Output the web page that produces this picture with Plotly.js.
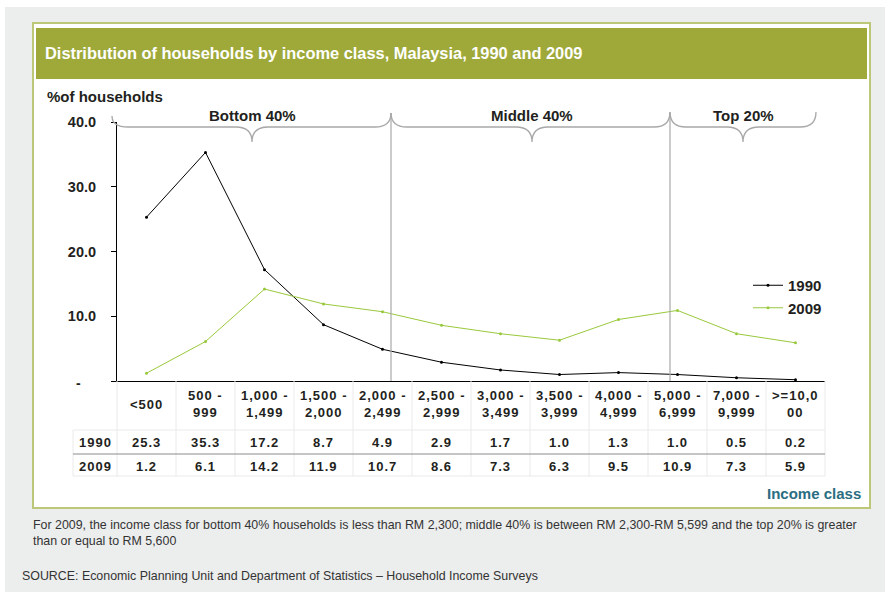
<!DOCTYPE html>
<html>
<head>
<meta charset="utf-8">
<script src="https://cdn.plot.ly/plotly-3.0.1.min.js"></script>
<style>html,body{margin:0;padding:0;background:#fff;}</style>
</head>
<body>
<div id="chart" style="width:885px;height:592px;"></div>
<script>
// ---- data ----
const categories = ['<500','500 -<br>999','1,000 -<br>1,499','1,500 -<br>2,000','2,000 -<br>2,499','2,500 -<br>2,999','3,000 -<br>3,499','3,500 -<br>3,999','4,000 -<br>4,999','5,000 -<br>6,999','7,000 -<br>9,999','>=10,0<br>00'];
const v1990 = [25.3,35.3,17.2,8.7,4.9,2.9,1.7,1.0,1.3,1.0,0.5,0.2];
const v2009 = [1.2,6.1,14.2,11.9,10.7,8.6,7.3,6.3,9.5,10.9,7.3,5.9];
const seriesNames = ['1990','2009'];
const yTicks = [10,20,30,40];
const yTickText = ['10.0','20.0','30.0','40.0'];
const groups = ['Bottom 40%','Middle 40%','Top 20%'];

// ---- geometry helpers (pixel -> paper) ----
const W = 885, H = 592, L = 117, R = 825, T = 122, B = 381;
const px = p => (p - L) / (R - L);
const py = p => (B - p) / (B - T);
const FONT = 'Liberation Sans, Arial, sans-serif';
const ls = (t, s) => '<span style="letter-spacing:' + s + 'px">' + t + '</span>';

const idx = categories.map((_, i) => i);

const traces = [
  {x: idx, y: v1990, name: seriesNames[0], type: 'scatter', mode: 'lines+markers',
   line: {color: '#000000', width: 1}, marker: {color: '#000000', size: 3}},
  {x: idx, y: v2009, name: seriesNames[1], type: 'scatter', mode: 'lines+markers',
   line: {color: '#99C93C', width: 1}, marker: {color: '#99C93C', size: 3}}
];

const shapes = [];
const annotations = [];

// backgrounds
shapes.push({type: 'rect', xref: 'paper', yref: 'paper', layer: 'below',
  x0: px(5), x1: px(885), y0: py(7), y1: py(592), fillcolor: '#ECEDED', line: {width: 0}});
shapes.push({type: 'rect', xref: 'paper', yref: 'paper', layer: 'below',
  x0: px(33), x1: px(870), y0: py(23), y1: py(508), fillcolor: '#FFFFFF', line: {color: '#BCC878', width: 2}});
shapes.push({type: 'rect', xref: 'paper', yref: 'paper', layer: 'below',
  x0: px(36), x1: px(867), y0: py(28), y1: py(79), fillcolor: '#9EA93A', line: {width: 0}});

// group dividers
[391, 670].forEach(xp => shapes.push({type: 'line', xref: 'paper', yref: 'paper',
  x0: px(xp), x1: px(xp), y0: py(113), y1: py(381), line: {color: '#A8A8A8', width: 1.2}}));

// braces
function brace(x0, tip, x1, yTop0, yTop1) {
  const ym = 127, yb = 142, r = 16;
  const P = (a, b) => px(a).toFixed(5) + ',' + py(b).toFixed(5);
  return 'M' + P(x0, yTop0) + ' Q' + P(x0, ym) + ' ' + P(x0 + r, ym) +
    ' L' + P(tip - r, ym) + ' Q' + P(tip, ym) + ' ' + P(tip, yb) +
    ' Q' + P(tip, ym) + ' ' + P(tip + r, ym) + ' L' + P(x1 - r, ym) +
    ' Q' + P(x1, ym) + ' ' + P(x1, yTop1);
}
const braceDefs = [[112, 252, 391, 116, 113], [391, 532, 670, 113, 112], [670, 743, 816, 112, 112]];
braceDefs.forEach((b, i) => {
  shapes.push({type: 'path', xref: 'paper', yref: 'paper', path: brace(b[0], b[1], b[2], b[3], b[4]),
    line: {color: '#A8A8A8', width: 1.3}});
  annotations.push({xref: 'paper', yref: 'paper', x: px(b[1]), y: py(115), text: groups[i],
    showarrow: false, xanchor: 'center', yanchor: 'middle',
    font: {family: FONT, size: 15, color: '#231F20', weight: 'bold'}});
});

// table grid
const colEdges = idx.map(i => L + i * (R - L) / 12).concat([R]);
colEdges.forEach(xp => shapes.push({type: 'line', xref: 'paper', yref: 'paper',
  x0: px(xp), x1: px(xp), y0: py(381), y1: py(476), line: {color: '#EAEAEA', width: 1}}));
shapes.push({type: 'line', xref: 'paper', yref: 'paper', x0: px(73), x1: px(73), y0: py(430), y1: py(476), line: {color: '#EAEAEA', width: 1}});
shapes.push({type: 'line', xref: 'paper', yref: 'paper', x0: px(73), x1: px(R), y0: py(430), y1: py(430), line: {color: '#EAEAEA', width: 1}});
shapes.push({type: 'line', xref: 'paper', yref: 'paper', x0: px(73), x1: px(R), y0: py(476), y1: py(476), line: {color: '#EAEAEA', width: 1}});
shapes.push({type: 'line', xref: 'paper', yref: 'paper', x0: px(73), x1: px(R), y0: py(454), y1: py(454), line: {color: '#8C8C8C', width: 1.2}});

const cellFont = {family: FONT, size: 13, color: '#231F20', weight: 'bold'};
categories.forEach((c, i) => {
  annotations.push({xref: 'x', yref: 'paper', x: i, y: py(404), text: ls(c, 1),
    showarrow: false, xanchor: 'center', yanchor: 'middle', font: cellFont});
  annotations.push({xref: 'x', yref: 'paper', x: i, y: py(442), text: ls(v1990[i].toFixed(1), 1),
    showarrow: false, xanchor: 'center', yanchor: 'middle', font: cellFont});
  annotations.push({xref: 'x', yref: 'paper', x: i, y: py(466), text: ls(v2009[i].toFixed(1), 1),
    showarrow: false, xanchor: 'center', yanchor: 'middle', font: cellFont});
});
seriesNames.forEach((s, k) => annotations.push({xref: 'paper', yref: 'paper', x: px(95), y: py(k === 0 ? 442 : 466),
  text: ls(s, 1), showarrow: false, xanchor: 'center', yanchor: 'middle', font: cellFont}));

// zero label "-"
annotations.push({xref: 'paper', yref: 'paper', x: px(78), y: py(383), text: '-', showarrow: false,
  xanchor: 'center', yanchor: 'middle', font: {family: FONT, size: 14, color: '#231F20', weight: 'bold'}});

// axis labels
annotations.push({xref: 'paper', yref: 'paper', x: px(45), y: py(96), text: '%of households', showarrow: false,
  xanchor: 'left', yanchor: 'middle', font: {family: FONT, size: 15, color: '#231F20', weight: 'bold'}});
annotations.push({xref: 'paper', yref: 'paper', x: px(863), y: py(493), text: 'Income class', showarrow: false,
  xanchor: 'right', yanchor: 'middle', font: {family: FONT, size: 15, color: '#2B6E82', weight: 'bold'}});

// footnotes
annotations.push({xref: 'paper', yref: 'paper', x: px(31), y: py(533), align: 'left',
  text: 'For 2009, the income class for bottom 40% households is less than RM 2,300; middle 40% is between RM 2,300-RM 5,599 and the top 20% is greater<br>than or equal to RM 5,600',
  showarrow: false, xanchor: 'left', yanchor: 'middle', font: {family: FONT, size: 12.4, color: '#333333'}});
annotations.push({xref: 'paper', yref: 'paper', x: px(20), y: py(576),
  text: 'SOURCE: Economic Planning Unit and Department of Statistics \u2013 Household Income Surveys',
  showarrow: false, xanchor: 'left', yanchor: 'middle', font: {family: FONT, size: 12.4, color: '#333333'}});

const layout = {
  width: W, height: H, autosize: false,
  margin: {l: L, r: W - R, t: T, b: H - B, pad: 0},
  paper_bgcolor: '#FFFFFF', plot_bgcolor: 'rgba(0,0,0,0)',
  font: {family: FONT, color: '#231F20'},
  title: {text: 'Distribution of households by income class, Malaysia, 1990 and 2009',
    xref: 'container', yref: 'container', x: 45 / W, y: (H - 53) / H, xanchor: 'left', yanchor: 'middle',
    font: {family: FONT, size: 16.4, color: '#FFFFFF', weight: 'bold'}},
  xaxis: {range: [-0.5, 11.5], showgrid: false, zeroline: false, showticklabels: false, ticks: '',
    showline: true, linecolor: '#000000', linewidth: 1, fixedrange: true},
  yaxis: {range: [0, 40], tickvals: [0].concat(yTicks), ticktext: [''].concat(yTickText),
    showgrid: false, zeroline: false, showline: true, linecolor: '#000000', linewidth: 1,
    ticks: 'outside', ticklen: 5, tickcolor: '#000000', ticklabelstandoff: 12,
    tickfont: {family: FONT, size: 14.5, color: '#231F20', weight: 'bold'}, fixedrange: true},
  showlegend: true,
  legend: {x: px(748), y: py(269), xanchor: 'left', yanchor: 'top', bgcolor: 'rgba(0,0,0,0)',
    font: {family: FONT, size: 15, color: '#231F20', weight: 'bold'}, tracegroupgap: 0, itemwidth: 30},
  shapes: shapes,
  annotations: annotations
};

Plotly.newPlot('chart', traces, layout, {displayModeBar: false, staticPlot: true});
</script>
</body>
</html>
